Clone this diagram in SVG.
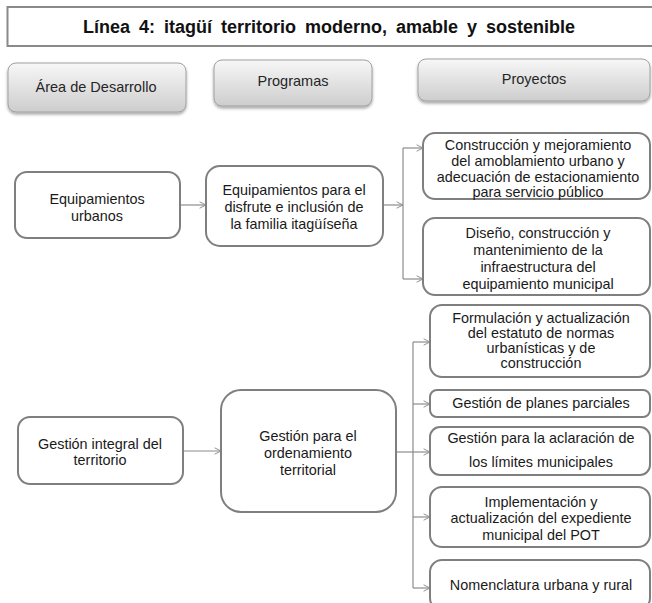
<svg xmlns="http://www.w3.org/2000/svg" width="652" height="603" viewBox="0 0 652 603">
<defs>
<linearGradient id="hdr" x1="0" y1="0" x2="0" y2="1">
<stop offset="0" stop-color="#f7f7f7"/>
<stop offset="1" stop-color="#cdcdcd"/>
</linearGradient>
<filter id="sh" x="-10%" y="-10%" width="120%" height="140%">
<feDropShadow dx="0" dy="2" stdDeviation="1.5" flood-color="#000" flood-opacity="0.35"/>
</filter>
<marker id="ah" viewBox="0 0 10 10" refX="9" refY="5" markerWidth="8" markerHeight="8" markerUnits="userSpaceOnUse" orient="auto">
<path d="M1,1 L9,5 L1,9" fill="none" stroke="#8c8c8c" stroke-width="1.2"/>
</marker>
<style>
text{font-family:"Liberation Sans",Arial,sans-serif;fill:#1a1a1a;text-anchor:middle}
.t{font-size:14.4px}
.h{font-size:14.5px;fill:#262626}
.ttl{font-size:18px;font-weight:bold;fill:#111;word-spacing:4px}
.box{fill:#fff;stroke:#7f7f7f;stroke-width:2}
.hb{fill:url(#hdr);stroke:#a0a0a0;stroke-width:1;filter:url(#sh)}
.c{fill:none;stroke:#8c8c8c;stroke-width:1.2}
</style>
</defs>
<rect width="652" height="603" fill="#fff"/>

<g id="title">
<rect x="7.5" y="7" width="660" height="39" fill="#fff" stroke="#8a8a8a" stroke-width="2"/>
<text class="ttl" x="329" y="33">Línea 4: itagüí territorio moderno, amable y sostenible</text>
</g>

<g id="hdr-area">
<rect class="hb" x="8" y="63" width="178" height="49" rx="8"/>
<text class="h" x="96" y="92">Área de Desarrollo</text>
</g>
<g id="hdr-programas">
<rect class="hb" x="214" y="60" width="158" height="46" rx="8"/>
<text class="h" x="293" y="86">Programas</text>
</g>
<g id="hdr-proyectos">
<rect class="hb" x="418" y="59" width="232" height="42" rx="8"/>
<text class="h" x="534" y="84">Proyectos</text>
</g>

<g id="connectors">
<line class="c" x1="180" y1="205" x2="206" y2="205" marker-end="url(#ah)"/>
<line class="c" x1="383" y1="205" x2="403" y2="205" marker-end="url(#ah)"/>
<line class="c" x1="403" y1="148" x2="403" y2="279"/>
<line class="c" x1="403" y1="148" x2="423" y2="148" marker-end="url(#ah)"/>
<line class="c" x1="403" y1="279" x2="423" y2="279" marker-end="url(#ah)"/>
<line class="c" x1="183" y1="451" x2="221" y2="451" marker-end="url(#ah)"/>
<line class="c" x1="396" y1="452" x2="413" y2="452" stroke-width="2"/>
<line class="c" x1="413" y1="342" x2="413" y2="588"/>
<line class="c" x1="413" y1="342" x2="430" y2="342" marker-end="url(#ah)"/>
<line class="c" x1="413" y1="404" x2="430" y2="404" marker-end="url(#ah)"/>
<line class="c" x1="413" y1="452" x2="430" y2="452" marker-end="url(#ah)"/>
<line class="c" x1="413" y1="517" x2="430" y2="517" marker-end="url(#ah)"/>
<line class="c" x1="413" y1="588" x2="430" y2="588" marker-end="url(#ah)"/>
</g>

<g id="area-equipamientos">
<rect class="box" x="15" y="172" width="165" height="66" rx="12"/>
<text class="t" x="97" y="204">Equipamientos</text>
<text class="t" x="97" y="221">urbanos</text>
</g>
<g id="prog-equipamientos">
<rect class="box" x="206" y="166" width="177" height="80" rx="14"/>
<text class="t" x="294" y="195">Equipamientos para el</text>
<text class="t" x="294" y="212">disfrute e inclusión de</text>
<text class="t" x="294" y="229">la familia itagüíseña</text>
</g>
<g id="proy-construccion">
<rect class="box" x="423" y="133" width="227" height="66" rx="12"/>
<text class="t" x="538" y="150">Construcción y mejoramiento</text>
<text class="t" x="538" y="166">del amoblamiento urbano y</text>
<text class="t" x="538" y="182">adecuación de estacionamiento</text>
<text class="t" x="538" y="197">para servicio público</text>
</g>
<g id="proy-diseno">
<rect class="box" x="423" y="218" width="227" height="77" rx="12"/>
<text class="t" x="538" y="238">Diseño, construcción y</text>
<text class="t" x="538" y="255">mantenimiento de la</text>
<text class="t" x="538" y="272">infraestructura del</text>
<text class="t" x="538" y="289">equipamiento municipal</text>
</g>

<g id="area-gestion">
<rect class="box" x="18" y="417" width="165" height="67" rx="12"/>
<text class="t" x="100" y="449">Gestión integral del</text>
<text class="t" x="100" y="465">territorio</text>
</g>
<g id="prog-gestion">
<rect class="box" x="221" y="390" width="175" height="122" rx="20"/>
<text class="t" x="308" y="441">Gestión para el</text>
<text class="t" x="308" y="458">ordenamiento</text>
<text class="t" x="308" y="475">territorial</text>
</g>
<g id="proy-formulacion">
<rect class="box" x="430" y="305" width="220" height="72" rx="12"/>
<text class="t" x="541" y="323">Formulación y actualización</text>
<text class="t" x="541" y="338">del estatuto de normas</text>
<text class="t" x="541" y="353">urbanísticas y de</text>
<text class="t" x="541" y="368">construcción</text>
</g>
<g id="proy-planes">
<rect class="box" x="430" y="390" width="220" height="27" rx="7"/>
<text class="t" x="541" y="408">Gestión de planes parciales</text>
</g>
<g id="proy-limites">
<rect class="box" x="430" y="427" width="220" height="48" rx="10"/>
<text class="t" x="541" y="443">Gestión para la aclaración de</text>
<text class="t" x="541" y="467">los límites municipales</text>
</g>
<g id="proy-pot">
<rect class="box" x="430" y="487" width="220" height="60" rx="12"/>
<text class="t" x="541" y="507">Implementación y</text>
<text class="t" x="541" y="523">actualización del expediente</text>
<text class="t" x="541" y="540">municipal del POT</text>
</g>
<g id="proy-nomenclatura">
<rect class="box" x="430" y="560" width="220" height="50" rx="12"/>
<text class="t" x="541" y="590">Nomenclatura urbana y rural</text>
</g>
</svg>
